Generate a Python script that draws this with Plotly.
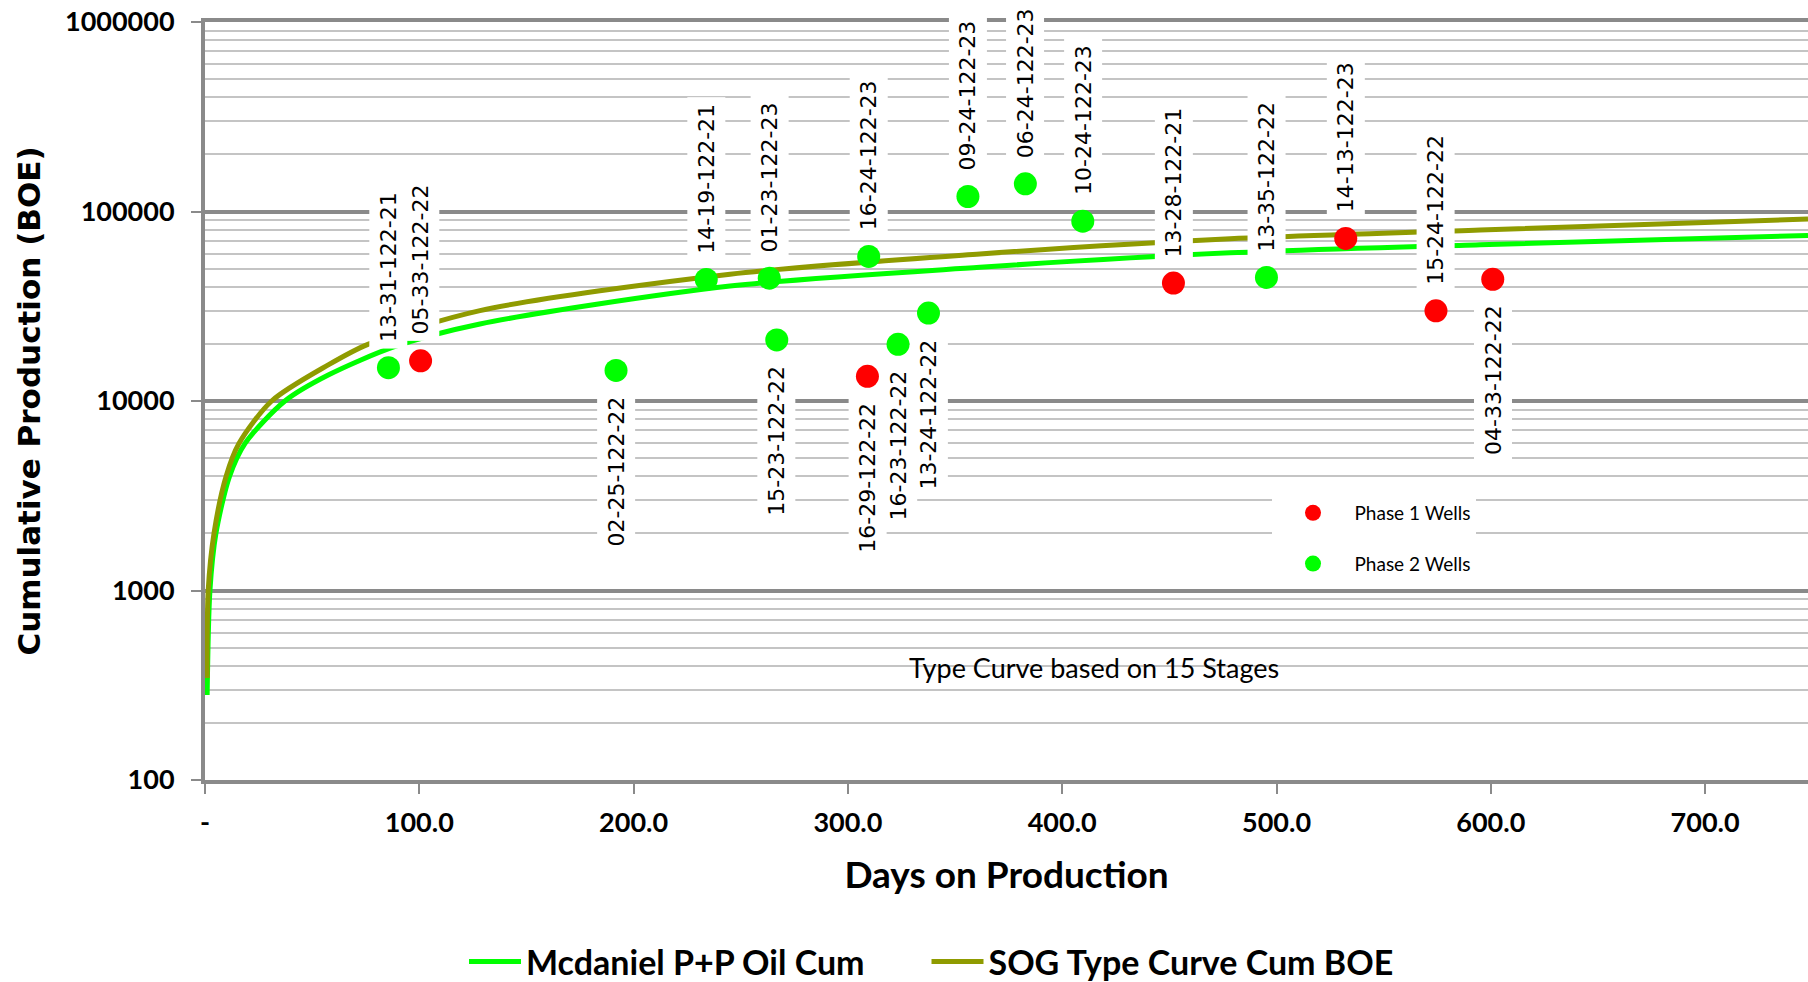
import plotly.graph_objects as go
import math

# ---------------- data ----------------
MCD_DAYS = [1, 2.3, 5.1, 11.4, 18.7, 37.3, 57.5, 88.7, 128.3, 245, 361.6, 478.3, 595, 748]
MCD_CUM = [281, 1000, 2000, 3990, 5980, 10000, 13700, 19400, 25500, 40400, 50800, 60500, 66800, 74800]
SOG_DAYS = [1, 1.5, 4.2, 9.8, 15.9, 31.1, 57.5, 76, 128.3, 245, 361.6, 478.3, 595, 748]
SOG_CUM = [345, 1000, 2000, 3990, 5980, 10000, 15500, 19900, 30000, 46700, 59700, 71800, 79900, 91200]

WELL_NAMES = ["13-31-122-21", "05-33-122-22", "02-25-122-22", "14-19-122-21", "01-23-122-23",
              "15-23-122-22", "16-29-122-22", "16-24-122-23", "16-23-122-22", "13-24-122-22",
              "09-24-122-23", "06-24-122-23", "10-24-122-23", "13-28-122-21", "13-35-122-22",
              "14-13-122-23", "15-24-122-22", "04-33-122-22"]
WELL_DAYS = [85.6, 100.6, 191.8, 233.9, 263.3, 266.8, 309.1, 309.7, 323.4, 337.6,
             356.0, 382.8, 409.6, 451.9, 495.3, 532.3, 574.4, 600.9]
WELL_CUM = [15000, 16300, 14500, 43800, 44500, 21000, 13500, 57900, 19900, 29100,
            120000, 140000, 88900, 41900, 44900, 72100, 29900, 43900]
WELL_PHASE = [2, 1, 2, 2, 2, 2, 1, 2, 2, 2, 2, 2, 2, 1, 2, 1, 1, 1]

X_TICKS = [0, 100, 200, 300, 400, 500, 600, 700]
X_TICK_TEXT = ["-", "100.0", "200.0", "300.0", "400.0", "500.0", "600.0", "700.0"]

# ---------------- style ----------------
LABELS_BELOW = {"02-25-122-22", "15-23-122-22", "16-29-122-22", "16-23-122-22",
                "13-24-122-22", "04-33-122-22"}
GREEN = "#00FF00"
OLIVE = "#8F9B00"
RED = "#FF0000"
MAJOR = "#8A8A8A"
MINOR = "#C4C4C4"
CAL = "Lato, 'Open Sans', sans-serif"
VER = "'DejaVu Sans', Verdana, sans-serif"
W, H = 1808, 982

fig = go.Figure()

fig.add_trace(go.Scatter(x=MCD_DAYS, y=MCD_CUM, mode="lines", name="Mcdaniel P+P Oil Cum",
                         line=dict(color=GREEN, width=5, shape="spline", smoothing=0.8),
                         legend="legend"))
fig.add_trace(go.Scatter(x=SOG_DAYS, y=SOG_CUM, mode="lines", name="SOG Type Curve Cum BOE",
                         line=dict(color=OLIVE, width=5, shape="spline", smoothing=0.8),
                         legend="legend3"))

for phase, color in [(1, RED), (2, GREEN)]:
    xs = [d for d, p in zip(WELL_DAYS, WELL_PHASE) if p == phase]
    ys = [v for v, p in zip(WELL_CUM, WELL_PHASE) if p == phase]
    names = [n for n, p in zip(WELL_NAMES, WELL_PHASE) if p == phase]
    fig.add_trace(go.Scatter(x=xs, y=ys, mode="markers", name=f"Phase {phase} Wells",
                             text=names, marker=dict(color=color, size=23),
                             legend="legend2", legendgroup=f"p{phase}"))

annotations = []
for n, d, v in zip(WELL_NAMES, WELL_DAYS, WELL_CUM):
    below = n in LABELS_BELOW
    annotations.append(dict(x=d, y=math.log10(v), xref="x", yref="y", text=n,
                            textangle=-90, showarrow=False, yshift=-101 if below else 101,
                            font=dict(family=VER, size=22, color="black"),
                            bgcolor="white", borderpad=6))
annotations.append(dict(x=414.6, y=math.log10(390), xref="x", yref="y",
                        text="Type Curve based on 15 Stages", showarrow=False,
                        font=dict(family=CAL, size=27, color="black")))

bottom_legend = dict(orientation="h", xref="container", yref="container",
                     xanchor="left", y=(H - 962) / H, yanchor="middle",
                     font=dict(family=CAL, size=34, color="black", weight="bold"),
                     itemwidth=52, bgcolor="rgba(0,0,0,0)")

fig.update_layout(
    width=W, height=H,
    margin=dict(l=205, r=0, t=22, b=202, autoexpand=False),
    paper_bgcolor="white", plot_bgcolor="white",
    showlegend=True,
    annotations=annotations,
    xaxis=dict(range=[0, 748], tickmode="array", tickvals=X_TICKS, ticktext=X_TICK_TEXT,
               showgrid=False, zeroline=False, showline=True, linecolor=MAJOR, linewidth=4,
               mirror=True, ticks="outside", ticklen=10, tickwidth=2, tickcolor=MAJOR,
               tickfont=dict(family=CAL, size=27, color="black", weight="bold"),
               ticklabelstandoff=6, ticklabeloverflow="allow",
               title=dict(text="Days on Production", standoff=26,
                          font=dict(family=CAL, size=37, color="black", weight="bold"))),
    yaxis=dict(type="log", range=[2, 6], tickmode="linear", tick0=0, dtick=1,
               tickformat="d",
               showgrid=True, gridcolor=MAJOR, gridwidth=4, zeroline=False,
               showline=True, linecolor=MAJOR, linewidth=4,
               ticks="outside", ticklen=10, tickwidth=2, tickcolor=MAJOR,
               tickfont=dict(family=CAL, size=27, color="black", weight="bold"),
               ticklabelstandoff=11, ticklabeloverflow="allow",
               minor=dict(dtick="D1", showgrid=True, gridcolor=MINOR, gridwidth=2, ticks=""),
               title=dict(text="Cumulative Production (BOE)", standoff=16,
                          font=dict(family=VER, size=31, color="black", weight="bold"))),
    legend=dict(bottom_legend, x=464 / W),
    legend3=dict(bottom_legend, x=926.5 / W),
    legend2=dict(orientation="v", xref="paper", yref="paper", x=(1271.5 - 205) / 1603,
                 xanchor="left", y=(780 - 494) / 758, yanchor="top",
                 font=dict(family=CAL, size=19, color="black"),
                 itemwidth=73,
                 tracegroupgap=23, bgcolor="white"),
)

fig.write_html("out.html", config={"displayModeBar": False},
               post_script="document.body.style.margin='0';document.body.style.overflow='hidden';")
